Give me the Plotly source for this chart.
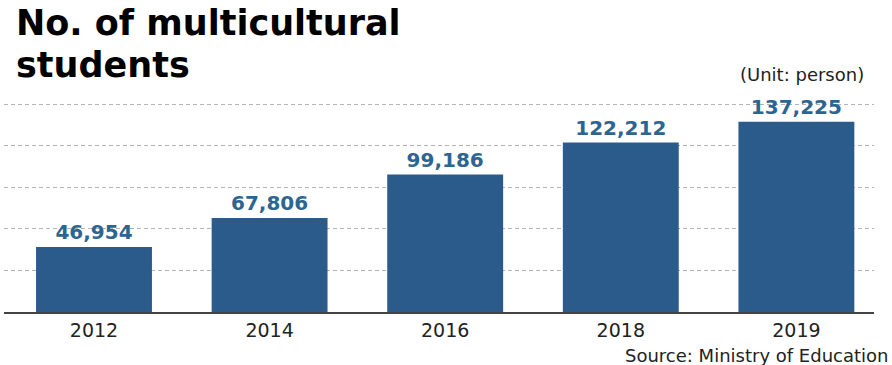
import plotly.graph_objects as go

years = ["2012", "2014", "2016", "2018", "2019"]
students = [46954, 67806, 99186, 122212, 137225]

title_line1 = "No. of multicultural"
title_line2 = "students"
unit_text = "(Unit: person)"
source_text = "Source: Ministry of Education"

W, H = 892, 365
L, R, T, B = 4, 18, 102, 53
PW, PH = W - L - R, H - T - B

def px_x(x):
    return (x - L) / PW

def px_y(y):
    return (H - B - y) / PH

FONT = "DejaVu Sans"
BAR = "#2a5b8b"
LABEL = "#2d6592"

fig = go.Figure(
    go.Bar(
        x=list(range(len(years))),
        y=students,
        marker=dict(color=BAR, line=dict(width=0)),
        texttemplate="%{y:,}",
        textposition="outside",
        constraintext="none",
        cliponaxis=False,
        textfont=dict(family=FONT, size=20, color=LABEL, weight="bold"),
        hoverinfo="skip",
    )
)

fig.update_layout(
    width=W,
    height=H,
    margin=dict(l=L, r=R, t=T, b=B, pad=0),
    paper_bgcolor="white",
    plot_bgcolor="white",
    bargap=0.34,
    showlegend=False,
    xaxis=dict(
        range=[-0.5125, 4.442],
        tickmode="array",
        tickvals=list(range(len(years))),
        ticktext=years,
        tickfont=dict(family=FONT, size=19, color="#222222"),
        showgrid=False,
        showline=True,
        linecolor="#444444",
        linewidth=1.5,
        ticks="",
        zeroline=False,
        fixedrange=True,
    ),
    yaxis=dict(
        range=[0, 151500],
        dtick=30000,
        showticklabels=False,
        showgrid=True,
        gridcolor="#b4b4b4",
        gridwidth=1,
        griddash="4px,3px",
        zeroline=False,
        showline=False,
        ticks="",
        fixedrange=True,
    ),
    annotations=[
        dict(text=title_line1, xref="paper", yref="paper", x=px_x(14), y=px_y(23),
             xanchor="left", yanchor="middle", showarrow=False,
             font=dict(family=FONT, size=35, color="#000000", weight="bold")),
        dict(text=title_line2, xref="paper", yref="paper", x=px_x(14), y=px_y(65),
             xanchor="left", yanchor="middle", showarrow=False,
             font=dict(family=FONT, size=35, color="#000000", weight="bold")),
        dict(text=unit_text, xref="paper", yref="paper", x=px_x(866), y=px_y(74),
             xanchor="right", yanchor="middle", showarrow=False,
             font=dict(family=FONT, size=18, color="#222222")),
        dict(text=source_text, xref="paper", yref="paper", x=px_x(890), y=px_y(355),
             xanchor="right", yanchor="middle", showarrow=False,
             font=dict(family=FONT, size=18, color="#222222")),
    ],
)

fig.write_html("out.html")
